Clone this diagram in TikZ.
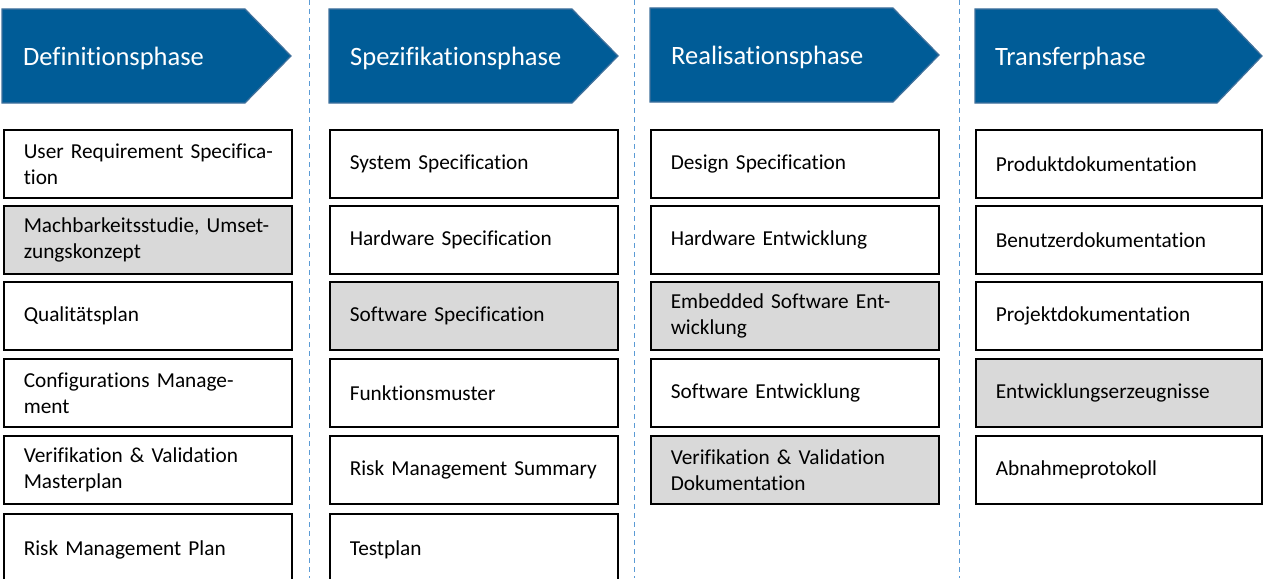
\documentclass[tikz,border=0pt]{standalone}
\usepackage{fontspec}
\setmainfont{Carlito}[Ligatures={NoCommon}]
\definecolor{phaseblue}{HTML}{005C97}
\definecolor{phaseedge}{HTML}{41719C}
\definecolor{boxgray}{HTML}{D9D9D9}
\definecolor{sepblue}{HTML}{5B9BD5}
\begin{document}
\begin{tikzpicture}[x=1pt,y=-1pt,
  phase/.style={fill=phaseblue,draw=phaseedge,line width=1.2pt,line join=miter},
  phasetext/.style={anchor=west,text=white,font=\fontsize{26.5}{30}\selectfont,inner sep=0pt},
  docbox/.style={draw=black,line width=1.5pt,fill=white,anchor=north west,
    minimum height=68pt,inner xsep=20pt,inner ysep=2pt,text width=248pt,align=left,
    font=\fontsize{21.3}{26}\selectfont},
  graybox/.style={docbox,fill=boxgray},
  sep/.style={draw=sepblue,line width=1pt,dash pattern=on 5pt off 4pt}]
\useasboundingbox (0,0) rectangle (1263,578);
\clip (0,0) rectangle (1263,578);
% separators
\coordinate (s1t) at (309,0); \coordinate (s1b) at (309,578);
\coordinate (s2t) at (634,0); \coordinate (s2b) at (634,578);
\coordinate (s3t) at (959,0); \coordinate (s3b) at (959,578);
\draw[sep] (s1t) -- (s1b);
\draw[sep] (s2t) -- (s2b);
\draw[sep] (s3t) -- (s3b);
% phase arrows
\draw[phase] (2,9) -- (245,9) -- (291,56) -- (245,103) -- (2,103) -- cycle;
\node[phasetext] (p1) at (23,58) {Definitionsphase};
\draw[phase] (329,9) -- (572,9) -- (618,56) -- (572,103) -- (329,103) -- cycle;
\node[phasetext] (p2) at (350,58) {Spezifikationsphase};
\draw[phase] (650,8) -- (893,8) -- (939,55) -- (893,102) -- (650,102) -- cycle;
\node[phasetext] (p3) at (671,57) {Realisationsphase};
\draw[phase] (975,9) -- (1217,9) -- (1262,56) -- (1217,103) -- (975,103) -- cycle;
\node[phasetext] (p4) at (995,58) {Transferphase};
% column 1
\node[docbox]  (a1) at (3,129) {\mbox{User Requirement Specifica-}\\tion};
\node[graybox] (a2) at (3,205) {\mbox{Machbarkeitsstudie, Umset-}\\zungskonzept};
\node[docbox]  (a3) at (3,281) {Qualitätsplan};
\node[docbox]  (a4) at (3,358) {\mbox{Configurations Manage-}\\ment};
\node[docbox]  (a5) at (3,435) {\mbox{Verifikation \& Validation}\\Masterplan};
\node[docbox,minimum height=72pt] (a6) at (3,513) {Risk Management Plan};
% column 2
\node[docbox]  (b1) at (329,129) {System Specification};
\node[docbox]  (b2) at (329,205) {Hardware Specification};
\node[graybox] (b3) at (329,281) {Software Specification};
\node[docbox]  (b4) at (329,358) {Funktionsmuster};
\node[docbox]  (b5) at (329,435) {\mbox{Risk Management Summary}};
\node[docbox,minimum height=72pt] (b6) at (329,513) {Testplan};
% column 3
\node[docbox]  (c1) at (650,129) {Design Specification};
\node[docbox]  (c2) at (650,205) {Hardware Entwicklung};
\node[graybox] (c3) at (650,281) {\mbox{Embedded Software Ent-}\\wicklung};
\node[docbox]  (c4) at (650,358) {Software Entwicklung};
\node[graybox] (c5) at (650,435) {\mbox{Verifikation \& Validation}\\Dokumentation};
% column 4
\node[docbox,text width=246pt]  (d1) at (975,129) {Produktdokumentation};
\node[docbox,text width=246pt]  (d2) at (975,205) {Benutzerdokumentation};
\node[docbox,text width=246pt]  (d3) at (975,281) {Projektdokumentation};
\node[graybox,text width=246pt] (d4) at (975,358) {Entwicklungserzeugnisse};
\node[docbox,text width=246pt]  (d5) at (975,435) {Abnahmeprotokoll};
\end{tikzpicture}
\end{document}
